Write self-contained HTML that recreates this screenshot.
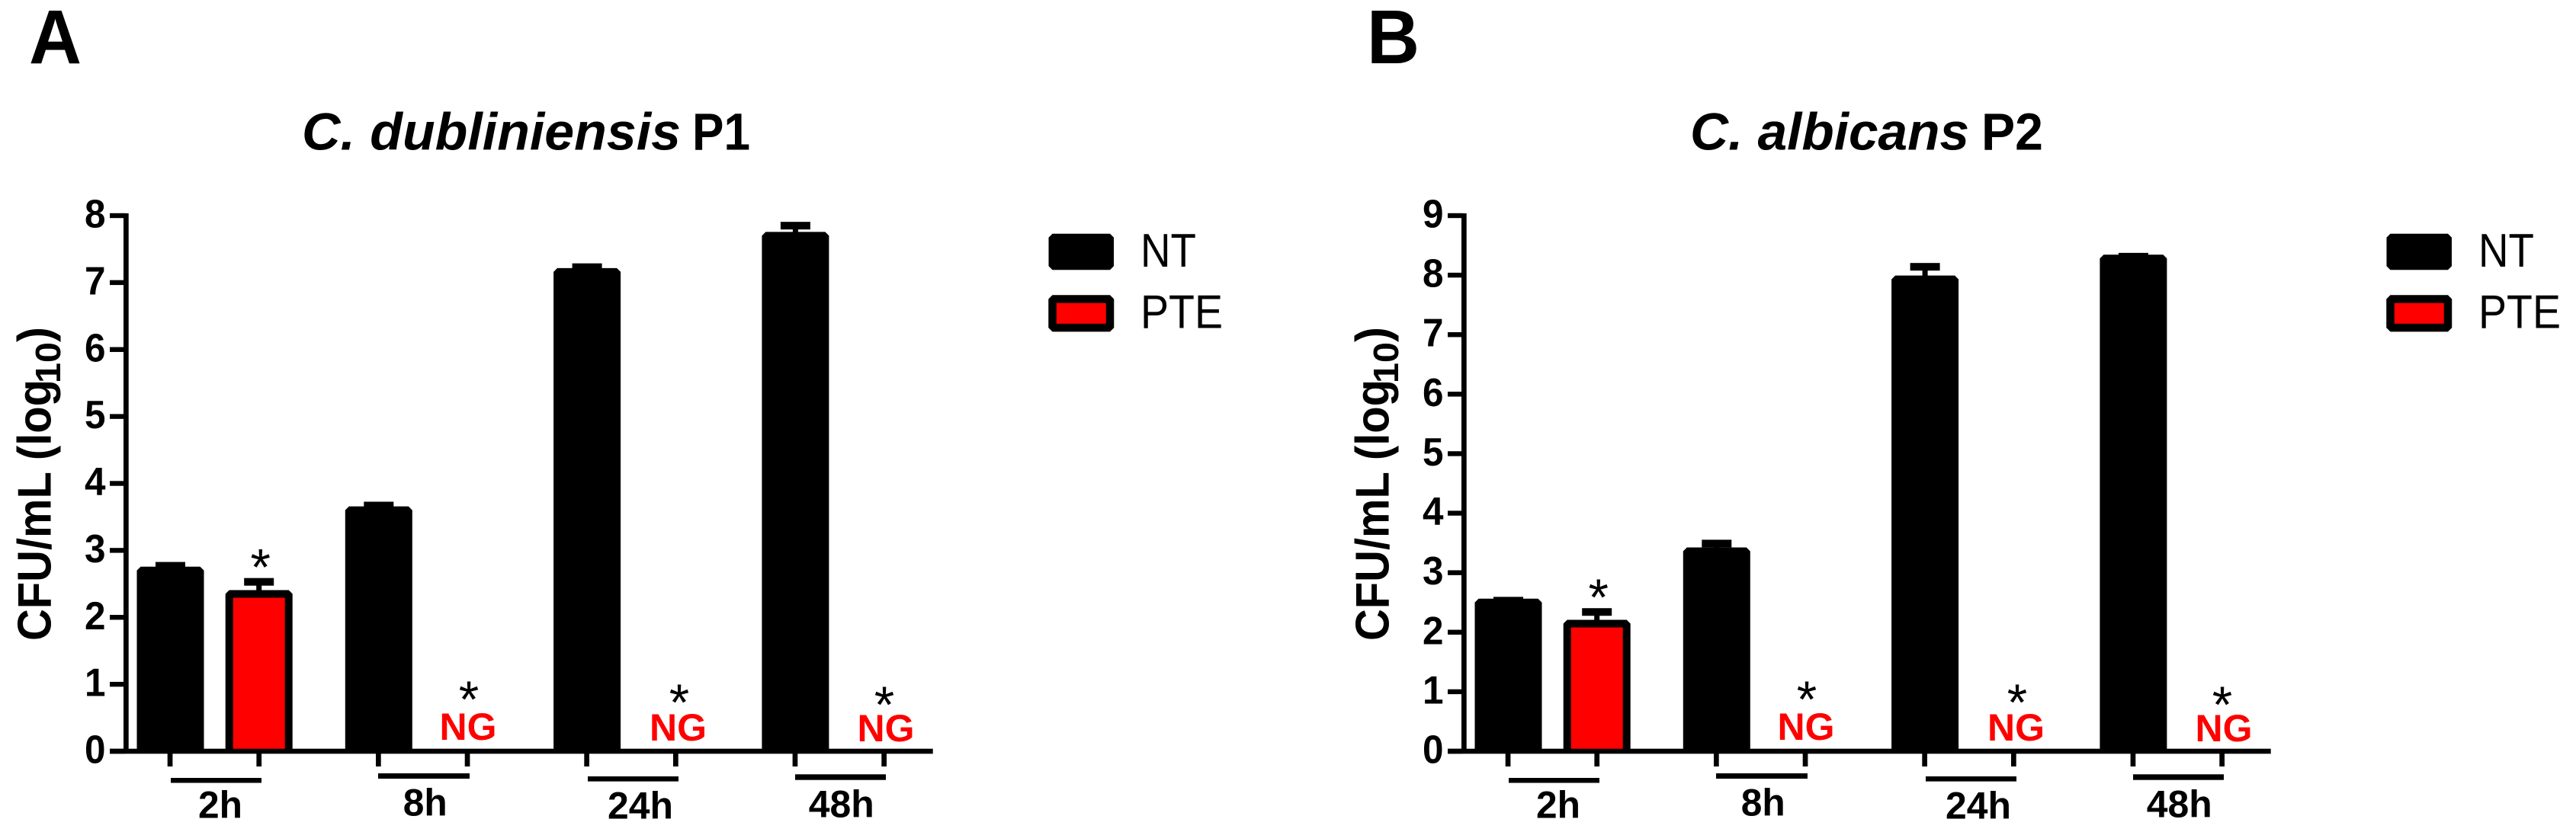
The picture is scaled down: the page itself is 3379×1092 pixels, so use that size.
<!DOCTYPE html>
<html lang="en">
<head>
<meta charset="utf-8">
<title>CFU/mL of C. dubliniensis P1 and C. albicans P2</title>
<style>
html,body{margin:0;padding:0;background:#fff;width:3379px;height:1092px;overflow:hidden}
svg{display:block}
text{font-family:"Liberation Sans",Arial,sans-serif;fill:#000}
.b{font-weight:700}
.cat{font-weight:700;font-size:50px;text-anchor:middle}
.ng{font-weight:700;font-size:50px;text-anchor:middle;fill:#f00}
.star{font-size:68px;text-anchor:middle}
.leg{font-size:62px}
</style>
</head>
<body>
<svg id="figure" xmlns="http://www.w3.org/2000/svg" width="3379" height="1092" viewBox="0 0 3379 1092">
<rect width="3379" height="1092" fill="#fff"/>

<g id="panel-a">
  <text class="b" x="38" y="83" font-size="100" textLength="69" lengthAdjust="spacingAndGlyphs">A</text>
  <text class="b" font-style="italic" x="396" y="196.5" font-size="69" textLength="497" lengthAdjust="spacingAndGlyphs">C. dubliniensis</text>
  <text class="b" x="908" y="196.5" font-size="69" textLength="76" lengthAdjust="spacingAndGlyphs">P1</text>
  <g>
    <text class="b" font-size="62" transform="translate(66.7,841) rotate(-90)" textLength="343" lengthAdjust="spacingAndGlyphs">CFU/mL (log</text>
    <text class="b" font-size="46" transform="translate(79,503) rotate(-90)" textLength="54" lengthAdjust="spacingAndGlyphs">10</text>
    <text class="b" font-size="62" transform="translate(66.7,449) rotate(-90)" textLength="20" lengthAdjust="spacingAndGlyphs">)</text>
  </g>
  <g>
    <rect x="224" y="1021" width="119" height="6.5"/>
    <rect x="496" y="1015" width="120" height="7"/>
    <rect x="771" y="1019" width="119" height="6.6"/>
    <rect x="1043" y="1016.3" width="119" height="7.4"/>
    <text class="cat" x="289" y="1073.5" textLength="58" lengthAdjust="spacingAndGlyphs">2h</text>
    <text class="cat" x="557.7" y="1070.5" textLength="58" lengthAdjust="spacingAndGlyphs">8h</text>
    <text class="cat" x="840" y="1074.4" textLength="86" lengthAdjust="spacingAndGlyphs">24h</text>
    <text class="cat" x="1103.7" y="1072.7" textLength="86" lengthAdjust="spacingAndGlyphs">48h</text>
  </g>
  <g>
    <text class="ng" x="614" y="971">NG</text>
    <text class="ng" x="889.5" y="972">NG</text>
    <text class="ng" x="1162" y="973">NG</text>
    <text class="star" x="615" y="941">*</text>
    <text class="star" x="891" y="945">*</text>
    <text class="star" x="1160" y="948">*</text>
  </g>
  <g>
    <rect x="1380.5" y="311.7" width="75.5" height="37.6" fill="#000" stroke="#000" stroke-width="10" stroke-linejoin="bevel"/>
    <text class="leg" x="1496" y="350" textLength="73" lengthAdjust="spacingAndGlyphs">NT</text>
    <rect x="1380.5" y="392.5" width="75.5" height="37.6" fill="#f00" stroke="#000" stroke-width="10.5" stroke-linejoin="bevel"/>
    <text class="leg" x="1496" y="430.6" textLength="108" lengthAdjust="spacingAndGlyphs">PTE</text>
  </g>
</g>

<g id="panel-b" transform="translate(1755,0)">
  <text class="b" x="38" y="83" font-size="100" textLength="69" lengthAdjust="spacingAndGlyphs">B</text>
  <text class="b" font-style="italic" x="462" y="196.5" font-size="69" textLength="366" lengthAdjust="spacingAndGlyphs">C. albicans</text>
  <text class="b" x="844" y="196.5" font-size="69" textLength="81" lengthAdjust="spacingAndGlyphs">P2</text>
  <g>
    <text class="b" font-size="62" transform="translate(66.7,841) rotate(-90)" textLength="343" lengthAdjust="spacingAndGlyphs">CFU/mL (log</text>
    <text class="b" font-size="46" transform="translate(79,503) rotate(-90)" textLength="54" lengthAdjust="spacingAndGlyphs">10</text>
    <text class="b" font-size="62" transform="translate(66.7,449) rotate(-90)" textLength="20" lengthAdjust="spacingAndGlyphs">)</text>
  </g>
  <g>
    <rect x="224" y="1021" width="119" height="6.5"/>
    <rect x="496" y="1015" width="120" height="7"/>
    <rect x="771" y="1019" width="119" height="6.6"/>
    <rect x="1043" y="1016.3" width="119" height="7.4"/>
    <text class="cat" x="289" y="1073.5" textLength="58" lengthAdjust="spacingAndGlyphs">2h</text>
    <text class="cat" x="557.7" y="1070.5" textLength="58" lengthAdjust="spacingAndGlyphs">8h</text>
    <text class="cat" x="840" y="1074.4" textLength="86" lengthAdjust="spacingAndGlyphs">24h</text>
    <text class="cat" x="1103.7" y="1072.7" textLength="86" lengthAdjust="spacingAndGlyphs">48h</text>
  </g>
  <g>
    <text class="ng" x="614" y="971">NG</text>
    <text class="ng" x="889.5" y="972">NG</text>
    <text class="ng" x="1162" y="973">NG</text>
    <text class="star" x="615" y="941">*</text>
    <text class="star" x="891" y="945">*</text>
    <text class="star" x="1160" y="948">*</text>
  </g>
  <g>
    <rect x="1380.5" y="311.7" width="75.5" height="37.6" fill="#000" stroke="#000" stroke-width="10" stroke-linejoin="bevel"/>
    <text class="leg" x="1496" y="350" textLength="73" lengthAdjust="spacingAndGlyphs">NT</text>
    <rect x="1380.5" y="392.5" width="75.5" height="37.6" fill="#f00" stroke="#000" stroke-width="10.5" stroke-linejoin="bevel"/>
    <text class="leg" x="1496" y="430.6" textLength="108" lengthAdjust="spacingAndGlyphs">PTE</text>
  </g>
</g>
</svg>

<script>
const categories = ['2h', '8h', '24h', '48h'];
const ticksA = ['0', '1', '2', '3', '4', '5', '6', '7', '8'];
const ntA = [2.70, 3.60, 7.16, 7.70];
const ntErrA = [0.07, 0.07, 0.07, 0.15];
const pteA = [2.35, 0, 0, 0];
const pteErrA = [0.18, 0, 0, 0];
const ticksB = ['0', '1', '2', '3', '4', '5', '6', '7', '8', '9'];
const ntB = [2.50, 3.36, 7.93, 8.28];
const ntErrB = [0.03, 0.13, 0.21, 0.03];
const pteB = [2.145, 0, 0, 0];
const pteErrB = [0.195, 0, 0, 0];

const SVGNS = 'http://www.w3.org/2000/svg';
const Y_ZERO = 986;
const Y_TOP = 283;
const X_FIRST = 223;
const X_GROUP_STEP = 273.3;
const X_SERIES_STEP = 116.7;
const BAR_WIDTH = 78;

function make(parent, tag, attrs) {
  const el = document.createElementNS(SVGNS, tag);
  for (const k in attrs) el.setAttribute(k, attrs[k]);
  parent.appendChild(el);
  return el;
}
function xScale(groupIndex, seriesIndex) {
  return X_FIRST + groupIndex * X_GROUP_STEP + seriesIndex * X_SERIES_STEP;
}

function drawSeries(g, yScale, values, errors, seriesIndex, seriesName, fill) {
  values.forEach(function (v, i) {
    const cx = xScale(i, seriesIndex) + (seriesIndex === 0 ? 0.5 : 0);
    if (v <= 0) return;
    const top = yScale(v);
    const left = cx - BAR_WIDTH / 2;
    const right = cx + BAR_WIDTH / 2;
    const errTop = yScale(v + errors[i]);

    const stem = make(g, 'rect', { x: cx - 3.5, y: errTop, width: 7, height: top - errTop, fill: '#000' });
    
    

    const cap = make(g, 'rect', { x: cx - 19.5, y: errTop - 5, width: 39, height: 10, fill: '#000' });
    
    

    const bar = make(g, 'path', {
      d: 'M' + left + ' ' + Y_ZERO + 'V' + top + 'H' + right + 'V' + Y_ZERO,
      fill: fill, stroke: '#000', 'stroke-width': 10, 'stroke-linejoin': 'bevel'
    });
    
    

    if (seriesIndex === 1) {
      const star = make(g, 'text', { x: cx + 2, y: errTop + 4, class: 'star' });
      star.textContent = '*';
      
      
    }
  });
}

function drawAxes(g, tickLabels, yScale) {
  const yAxis = make(g, 'rect', { x: 162, y: Y_TOP - 3, width: 6.7, height: Y_ZERO - Y_TOP + 6 });
  
  

  const xAxis = make(g, 'rect', { x: 144, y: Y_ZERO - 3.3, width: 1079.7, height: 6.6 });
  
  

  tickLabels.forEach(function (label) {
    const y = yScale(Number(label));
    const tick = make(g, 'rect', { x: 144, y: y - 3.2, width: 20, height: 6.4 });
    
    

    const text = make(g, 'text', { x: 138.5, y: y + 15.5, 'text-anchor': 'end', 'font-size': 52, 'font-weight': 700, textLength: 27.5, lengthAdjust: 'spacingAndGlyphs' });
    text.textContent = label;
    
    
  });

  categories.forEach(function (c, i) {
    [0, 1].forEach(function (s) {
      const t = make(g, 'rect', { x: xScale(i, s) - 3.3, y: Y_ZERO + 3, width: 6.7, height: 17 });
      
      
    });
  });
}

function drawPanel(id, tickLabels, nt, ntErr, pte, pteErr) {
  const g = document.getElementById(id);
  const maxTick = Number(tickLabels[tickLabels.length - 1]);
  const yScale = function (v) { return Y_ZERO - v * (Y_ZERO - Y_TOP) / maxTick; };
  drawSeries(g, yScale, nt, ntErr, 0, 'nt', '#000');
  drawSeries(g, yScale, pte, pteErr, 1, 'pte', '#f00');
  drawAxes(g, tickLabels, yScale);
}

drawPanel('panel-a', ticksA, ntA, ntErrA, pteA, pteErrA);
drawPanel('panel-b', ticksB, ntB, ntErrB, pteB, pteErrB);
</script>
</body>
</html>
